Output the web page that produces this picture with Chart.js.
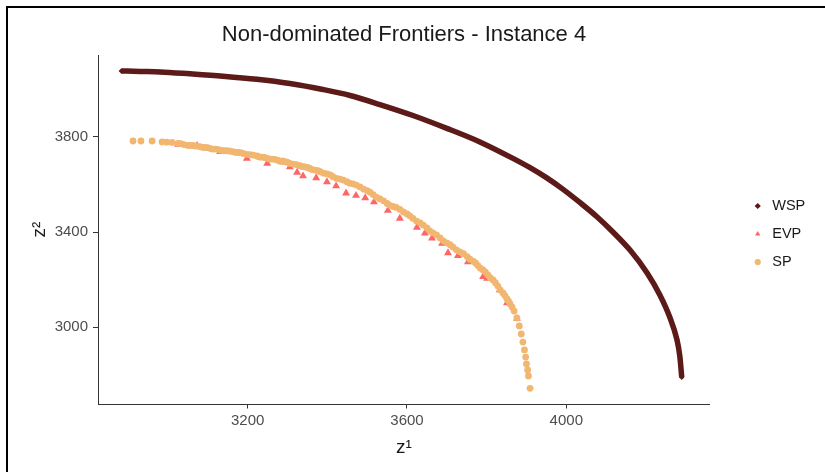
<!DOCTYPE html>
<html>
<head>
<meta charset="utf-8">
<script src="https://cdn.jsdelivr.net/npm/chart.js@4.4.1/dist/chart.umd.min.js"></script>
<style>
html,body{margin:0;padding:0;background:#fff;}
#wrap{position:relative;width:825px;height:472px;overflow:hidden;background:#fff;}
#frame{position:absolute;left:6px;top:6px;width:840px;height:480px;border-top:2px solid #000;border-left:2px solid #000;pointer-events:none;}
canvas{position:absolute;left:0;top:0;}
</style>
</head>
<body>
<div id="wrap"><canvas id="c" width="825" height="472"></canvas><div id="frame"></div></div>
<script>
// ---- data ----
const chartTitle = 'Non-dominated Frontiers - Instance 4';
const seriesNames = ['WSP', 'EVP', 'SP'];
const xTicks = [3200, 3600, 4000];
const yTicks = [3000, 3400, 3800];

const wspZ1 = [2882, 2930, 2980, 3055, 3138, 3223, 3306, 3389, 3457, 3532, 3615, 3700, 3783, 3866, 3909, 3951, 3992, 4034, 4077, 4117, 4160, 4203, 4235, 4260, 4278, 4285, 4290];
const wspZ2 = [4076, 4074, 4072, 4064, 4054, 4041, 4023, 3998, 3973, 3935, 3889, 3835, 3778, 3709, 3670, 3627, 3579, 3524, 3464, 3400, 3324, 3228, 3136, 3042, 2947, 2880, 2789];

const evpZ1 = [3025, 3073, 3131, 3198, 3249, 3289, 3306, 3324, 3339, 3372, 3399, 3422, 3447, 3472, 3495, 3517, 3552, 3582, 3625, 3645, 3663, 3688, 3703, 3728, 3753, 3791, 3801, 3833, 3851, 3876];
const evpZ2 = [3767, 3763, 3737, 3709, 3688, 3694, 3673, 3650, 3635, 3627, 3610, 3593, 3563, 3553, 3543, 3526, 3490, 3457, 3419, 3395, 3374, 3352, 3312, 3301, 3274, 3212, 3205, 3157, 3102, 3037];

const spZ1 = [2912, 2932, 2960, 2985, 2997, 3010, 3025, 3032, 3040, 3048, 3055, 3062, 3070, 3080, 3087, 3093, 3099, 3105, 3111, 3118, 3124, 3131, 3139, 3146, 3154, 3163, 3170, 3176, 3182, 3188, 3197, 3206, 3214, 3223, 3229, 3236, 3243, 3249, 3255, 3261, 3268, 3274, 3280, 3286, 3292, 3299, 3306, 3314, 3322, 3331, 3338, 3344, 3350, 3356, 3362, 3369, 3376, 3382, 3390, 3399, 3407, 3414, 3423, 3432, 3440, 3449, 3456, 3464, 3473, 3482, 3491, 3500, 3507, 3515, 3523, 3532, 3541, 3550, 3557, 3565, 3573, 3582, 3591, 3600, 3607, 3615, 3624, 3633, 3641, 3650, 3657, 3665, 3674, 3683, 3691, 3700, 3708, 3715, 3724, 3733, 3742, 3751, 3758, 3766, 3772, 3778, 3784, 3791, 3797, 3803, 3809, 3816, 3822, 3828, 3834, 3841, 3846, 3851, 3855, 3859, 3864, 3869, 3876, 3882, 3887, 3891, 3895, 3898, 3900, 3903, 3905, 3909];
const spZ2 = [3782, 3782, 3782, 3778, 3777, 3776, 3772, 3771, 3767, 3764, 3763, 3763, 3761, 3758, 3755, 3755, 3754, 3751, 3748, 3748, 3747, 3744, 3741, 3741, 3740, 3737, 3734, 3734, 3733, 3730, 3726, 3725, 3723, 3719, 3715, 3714, 3713, 3709, 3706, 3706, 3705, 3702, 3698, 3697, 3696, 3693, 3688, 3685, 3683, 3678, 3674, 3673, 3671, 3667, 3662, 3660, 3658, 3653, 3647, 3644, 3640, 3632, 3625, 3622, 3618, 3611, 3605, 3602, 3597, 3589, 3580, 3574, 3567, 3557, 3546, 3539, 3531, 3520, 3512, 3507, 3503, 3495, 3484, 3476, 3468, 3457, 3446, 3438, 3429, 3417, 3405, 3396, 3388, 3375, 3363, 3354, 3347, 3337, 3325, 3317, 3309, 3297, 3286, 3278, 3270, 3259, 3248, 3241, 3232, 3220, 3208, 3199, 3187, 3173, 3157, 3144, 3133, 3119, 3110, 3098, 3085, 3068, 3039, 3006, 2972, 2938, 2905, 2875, 2846, 2821, 2796, 2744];

const xRange = [2824.1, 4360.8];
const yRange = [2678.1, 4142.9];

// ---- styling ----
const FONT = "'Liberation Sans', Arial, sans-serif";
const AXIS = '#333333';
const COLORS = { WSP: '#5c1a18', EVP: '#ff6666', SP: '#f1b670' };

const zip = (a, b) => a.map((v, i) => ({ x: v, y: b[i] }));

new Chart(document.getElementById('c'), {
  type: 'scatter',
  data: {
    datasets: [
      {
        label: seriesNames[0], data: zip(wspZ1, wspZ2), showLine: true,
        borderColor: COLORS.WSP, borderWidth: 5.5, cubicInterpolationMode: 'monotone', backgroundColor: COLORS.WSP,
        pointStyle: 'rectRot', pointRadius: 2.5, pointBorderWidth: 0, pointBackgroundColor: COLORS.WSP, order: 3
      },
      {
        label: seriesNames[1], data: zip(evpZ1, evpZ2), backgroundColor: COLORS.EVP,
        pointBackgroundColor: COLORS.EVP, pointStyle: 'triangle', pointRadius: 4.6, pointBorderWidth: 0, order: 2
      },
      {
        label: seriesNames[2], data: zip(spZ1, spZ2), backgroundColor: COLORS.SP,
        pointBackgroundColor: COLORS.SP, pointStyle: 'circle', pointRadius: 3.4, pointBorderWidth: 0, order: 1
      }
    ]
  },
  options: {
    responsive: false,
    animation: false,
    devicePixelRatio: 1,
    layout: { padding: { left: 0, right: 9.75, top: 0, bottom: 4 } },
    plugins: {
      title: {
        display: true, text: chartTitle, fullSize: false, color: '#1a1a1a',
        font: { family: FONT, size: 22, weight: 'normal' },
        padding: { top: 21.5, bottom: 7.1 }
      },
      legend: {
        position: 'right', align: 'center',
        labels: {
          usePointStyle: true, boxWidth: 14.5, boxHeight: 4.4, padding: 13.5,
          color: '#1a1a1a', font: { family: FONT, size: 14.5 },
          sort: (a, b) => a.datasetIndex - b.datasetIndex
        }
      },
      tooltip: { enabled: false }
    },
    scales: {
      x: {
        type: 'linear', position: 'bottom', min: xRange[0], max: xRange[1],
        afterBuildTicks: s => { s.ticks = xTicks.map(v => ({ value: v })); },
        afterFit: s => { s.height = 64; },
        grid: { drawOnChartArea: false, drawTicks: true, tickLength: 4.5, color: AXIS, lineWidth: 1 },
        border: { display: true, color: AXIS, width: 1 },
        ticks: { color: '#4d4d4d', font: { family: FONT, size: 15 }, padding: 3.5, maxRotation: 0, autoSkip: false, callback: v => String(v) },
        title: { display: true, text: 'z\u00B9', color: '#1a1a1a', font: { family: FONT, size: 19 }, padding: { top: 0, bottom: 8.9 } }
      },
      y: {
        type: 'linear', position: 'left', min: yRange[0], max: yRange[1],
        afterBuildTicks: s => { s.ticks = yTicks.map(v => ({ value: v })); },
        afterFit: s => { s.width = 98; },
        grid: { drawOnChartArea: false, drawTicks: true, tickLength: 5, color: AXIS, lineWidth: 1 },
        border: { display: true, color: AXIS, width: 1 },
        ticks: { color: '#4d4d4d', font: { family: FONT, size: 15 }, padding: 5, autoSkip: false, callback: v => String(v) },
        title: { display: true, text: 'z\u00B2', color: '#1a1a1a', font: { family: FONT, size: 19 }, padding: { top: 28.7, bottom: 0 } }
      },
      spacer: {
        type: 'linear', position: 'right', display: true,
        grid: { display: false }, border: { display: false }, ticks: { display: false },
        afterFit: s => { s.width = 27; }
      }
    }
  }
});
</script>
</body>
</html>
